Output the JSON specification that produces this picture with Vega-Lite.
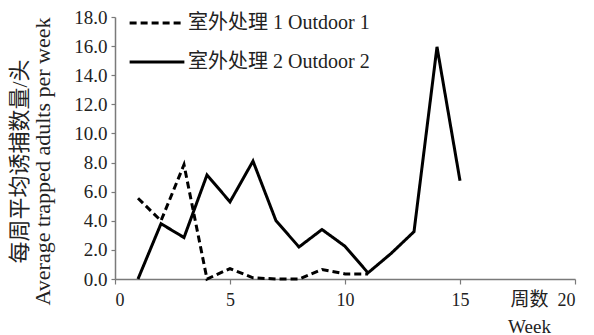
{
  "$schema": "https://vega.github.io/schema/vega-lite/v6.json",
  "width": 460,
  "height": 262,
  "autosize": {"type": "none"},
  "padding": {"left": 115, "top": 17, "right": 19, "bottom": 56},
  "background": "white",
  "config": {
    "view": {"stroke": null},
    "font": "Liberation Serif, Noto Sans CJK SC",
    "axis": {
      "grid": false,
      "domainColor": "#7a7a7a",
      "domainWidth": 1.5,
      "tickColor": "#7a7a7a",
      "tickWidth": 1.2,
      "labelFont": "Liberation Serif",
      "labelFontSize": 18,
      "labelColor": "#222",
      "titleFont": "Liberation Serif, Noto Sans CJK SC",
      "titleFontWeight": "normal",
      "titleColor": "#222"
    },
    "legend": {
      "labelFont": "Liberation Serif, Noto Sans CJK SC",
      "labelFontSize": 20,
      "labelColor": "#222",
      "labelLimit": 400
    }
  },
  "data": {
    "values": [
      {"week": 1, "value": 5.55, "series": "室外处理 1 Outdoor 1"},
      {"week": 2, "value": 4.0, "series": "室外处理 1 Outdoor 1"},
      {"week": 3, "value": 7.85, "series": "室外处理 1 Outdoor 1"},
      {"week": 4, "value": 0.0, "series": "室外处理 1 Outdoor 1"},
      {"week": 5, "value": 0.72, "series": "室外处理 1 Outdoor 1"},
      {"week": 6, "value": 0.08, "series": "室外处理 1 Outdoor 1"},
      {"week": 7, "value": 0.0, "series": "室外处理 1 Outdoor 1"},
      {"week": 8, "value": 0.0, "series": "室外处理 1 Outdoor 1"},
      {"week": 9, "value": 0.65, "series": "室外处理 1 Outdoor 1"},
      {"week": 10, "value": 0.35, "series": "室外处理 1 Outdoor 1"},
      {"week": 11, "value": 0.35, "series": "室外处理 1 Outdoor 1"},
      {"week": 1, "value": 0.0, "series": "室外处理 2 Outdoor 2"},
      {"week": 2, "value": 3.8, "series": "室外处理 2 Outdoor 2"},
      {"week": 3, "value": 2.85, "series": "室外处理 2 Outdoor 2"},
      {"week": 4, "value": 7.15, "series": "室外处理 2 Outdoor 2"},
      {"week": 5, "value": 5.3, "series": "室外处理 2 Outdoor 2"},
      {"week": 6, "value": 8.1, "series": "室外处理 2 Outdoor 2"},
      {"week": 7, "value": 4.0, "series": "室外处理 2 Outdoor 2"},
      {"week": 8, "value": 2.2, "series": "室外处理 2 Outdoor 2"},
      {"week": 9, "value": 3.4, "series": "室外处理 2 Outdoor 2"},
      {"week": 10, "value": 2.25, "series": "室外处理 2 Outdoor 2"},
      {"week": 11, "value": 0.42, "series": "室外处理 2 Outdoor 2"},
      {"week": 12, "value": 1.75, "series": "室外处理 2 Outdoor 2"},
      {"week": 13, "value": 3.25, "series": "室外处理 2 Outdoor 2"},
      {"week": 14, "value": 15.95, "series": "室外处理 2 Outdoor 2"},
      {"week": 15, "value": 6.75, "series": "室外处理 2 Outdoor 2"}
    ]
  },
  "encoding": {
    "x": {
      "field": "week",
      "type": "quantitative",
      "scale": {"domain": [0, 20], "nice": false, "zero": false},
      "axis": {
        "values": [0, 5, 10, 15, 20],
        "tickSize": 5,
        "labelPadding": 7,
        "title": ["周数", "Week"],
        "titleFontSize": 19,
        "titleLineHeight": 27,
        "titleAnchor": "start",
        "titleAlign": "center",
        "titleBaseline": "top",
        "titleX": 414,
        "titleY": 11
      }
    },
    "y": {
      "field": "value",
      "type": "quantitative",
      "scale": {"domain": [0, 18], "nice": false},
      "axis": {
        "values": [0, 2, 4, 6, 8, 10, 12, 14, 16, 18],
        "format": ".1f",
        "tickSize": 4,
        "labelPadding": 4,
        "labelFontSize": 19,
        "title": ["每周平均诱捕数量/头", "Average trapped adults per week"],
        "titleFontSize": 22,
        "titleLineHeight": 23,
        "titleAngle": -90,
        "titleAlign": "center",
        "titleBaseline": "top",
        "titleX": -106,
        "titleY": 144
      }
    },
    "strokeDash": {
      "field": "series",
      "type": "nominal",
      "scale": {
        "domain": ["室外处理 1 Outdoor 1", "室外处理 2 Outdoor 2"],
        "range": [[7, 4], [1, 0]]
      },
      "legend": {
        "title": null,
        "orient": "none",
        "legendX": 13,
        "legendY": -23,
        "symbolType": "stroke",
        "symbolSize": 3000,
        "symbolStrokeWidth": 3,
        "symbolStrokeColor": "black",
        "labelOffset": 2,
        "rowPadding": -19
      }
    }
  },
  "layer": [
    {
      "transform": [{"filter": "datum.series === '室外处理 1 Outdoor 1'"}],
      "mark": {"type": "line", "color": "black", "strokeWidth": 3}
    },
    {
      "transform": [{"filter": "datum.series === '室外处理 2 Outdoor 2'"}],
      "mark": {"type": "line", "color": "black", "strokeWidth": 3}
    }
  ]
}
